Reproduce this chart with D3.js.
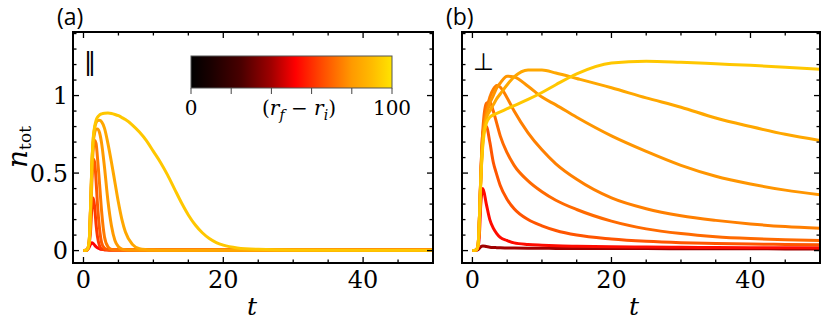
<!DOCTYPE html>
<html><head><meta charset="utf-8">
<script src="https://cdn.jsdelivr.net/npm/d3@7"></script>
<style>body{margin:0;background:#fff}svg{display:block}</style>
</head><body>
<svg id="c" width="830" height="324"></svg>
<script>
// ---------- data ----------
const tA = [0,0.5,0.8,1,1.2,1.4,1.6,1.8,2,2.3,2.6,3,3.5,4,4.5,5,5.5,6,7,8,9,10,11,12,13,14,15,16,17,18,19,20,22,25,30,40,50];
const aRed    = [0,0.003,0.02,0.04,0.05,0.045,0.035,0.025,0.018,0.012,0.008,0.006,0.005,0.004,0.004,0.004,0.004,0.004,0.004,0.004,0.004,0.004,0.004,0.004,0.004,0.004,0.004,0.004,0.004,0.004,0.004,0.004,0.004,0.004,0.004,0.004,0.004];
const aO0     = [0,0.004,0.04,0.12,0.28,0.34,0.28,0.17,0.09,0.03,0.01,0.005,0.004,0.004,0.004,0.004,0.004,0.004,0.004,0.004,0.004,0.004,0.004,0.004,0.004,0.004,0.004,0.004,0.004,0.004,0.004,0.004,0.004,0.004,0.004,0.004,0.004];
const aO1     = [0,0.005,0.05,0.2,0.45,0.59,0.57,0.45,0.3,0.14,0.05,0.015,0.006,0.004,0.004,0.004,0.004,0.004,0.004,0.004,0.004,0.004,0.004,0.004,0.004,0.004,0.004,0.004,0.004,0.004,0.004,0.004,0.004,0.004,0.004,0.004,0.004];
const aO2     = [0,0.005,0.05,0.27,0.5,0.66,0.71,0.69,0.6,0.43,0.25,0.09,0.025,0.008,0.005,0.004,0.004,0.004,0.004,0.004,0.004,0.004,0.004,0.004,0.004,0.004,0.004,0.004,0.004,0.004,0.004,0.004,0.004,0.004,0.004,0.004,0.004];
const aO3     = [0,0.005,0.05,0.26,0.56,0.7,0.76,0.783,0.785,0.76,0.69,0.54,0.32,0.16,0.065,0.025,0.01,0.006,0.004,0.003,0.003,0.003,0.003,0.003,0.003,0.003,0.003,0.003,0.003,0.003,0.003,0.003,0.003,0.003,0.003,0.003,0.003];
const aO4     = [0,0.005,0.05,0.25,0.55,0.72,0.79,0.825,0.838,0.84,0.83,0.79,0.69,0.57,0.44,0.31,0.2,0.12,0.04,0.012,0.006,0.004,0.003,0.003,0.003,0.003,0.003,0.003,0.003,0.003,0.003,0.003,0.003,0.003,0.003,0.003,0.003];
const aYellow = [0,0.005,0.05,0.25,0.55,0.73,0.8,0.84,0.86,0.875,0.882,0.886,0.887,0.884,0.878,0.87,0.858,0.845,0.81,0.765,0.71,0.64,0.57,0.49,0.4,0.31,0.23,0.165,0.115,0.078,0.052,0.035,0.017,0.008,0.004,0.003,0.003];
const aSeries = [aRed, aO0, aO1, aO2, aO3, aO4, aYellow];
const aParams = [52, 62, 68, 74, 80, 84, 93];   // position on colour bar (0-100)

const tB = [0,0.5,0.8,1,1.2,1.5,2,2.5,3,3.5,4,5,6,8,10,12,15,20,25,30,35,40,45,50];
const bDark   = [0,0.001,0.005,0.015,0.025,0.03,0.026,0.022,0.02,0.019,0.018,0.017,0.016,0.015,0.015,0.014,0.014,0.013,0.013,0.012,0.012,0.012,0.011,0.011];
const bRed    = [0,0.002,0.02,0.1,0.3,0.4,0.3,0.2,0.145,0.11,0.085,0.065,0.05,0.04,0.035,0.031,0.028,0.025,0.023,0.021,0.02,0.019,0.018,0.018];
const bO5     = [0,0.003,0.03,0.2,0.48,0.76,0.8,0.7,0.57,0.49,0.42,0.33,0.27,0.2,0.16,0.13,0.1,0.075,0.06,0.051,0.046,0.042,0.04,0.038];
const bO4     = [0,0.003,0.03,0.2,0.48,0.78,0.95,0.96,0.9,0.82,0.74,0.63,0.55,0.45,0.38,0.325,0.265,0.19,0.14,0.11,0.09,0.078,0.07,0.065];
const bO3     = [0,0.003,0.03,0.2,0.47,0.74,0.9,0.99,1.04,1.065,1.055,0.985,0.9,0.76,0.65,0.56,0.46,0.34,0.27,0.225,0.195,0.172,0.155,0.144];
const bO2     = [0,0.003,0.03,0.2,0.46,0.72,0.87,0.95,1.0,1.05,1.08,1.125,1.12,1.06,0.99,0.94,0.86,0.74,0.64,0.55,0.48,0.43,0.39,0.36];
const bO1     = [0,0.003,0.03,0.2,0.45,0.7,0.85,0.9,0.94,0.98,1.01,1.07,1.12,1.165,1.165,1.145,1.11,1.05,0.985,0.925,0.855,0.8,0.75,0.71];
const bYellow = [0,0.003,0.03,0.2,0.45,0.68,0.82,0.86,0.875,0.885,0.895,0.915,0.935,0.975,1.02,1.07,1.14,1.21,1.222,1.215,1.205,1.195,1.183,1.17];
const bSeries = [bDark, bRed, bO5, bO4, bO3, bO2, bO1, bYellow];
const bParams = [40, 54, 67, 71, 75, 79, 84, 93];

const xMajor = [0, 20, 40];
const yMajor = [0, 0.5, 1];
const yMajorLabels = ["0", "0.5", "1"];
const cbarTicks = [0, 20, 40, 60, 80, 100];
const cbarStops = [0, 0.1, 0.25, 0.4, 0.52, 0.65, 0.8, 0.9, 1.0];
const cbarColors = ["#000000","#1a0000","#4a0000","#a00000","#ff0000","#ff4a00","#ff9a00","#ffbb00","#ffe400"];

// ---------- drawing ----------
const svg = d3.select("#c");
const cmap = d3.scaleLinear().domain(cbarStops.map(d => d * 100)).range(cbarColors).interpolate(d3.interpolateRgb);
const serif = "DejaVu Serif";

function panel(x0, x1, series, params, tvals, showY, tag, sym, id, tLabelX) {
  const x = d3.scaleLinear().domain([-1.5, 50]).range([x0, x1]);
  const y = d3.scaleLinear().domain([-0.08, 1.41]).range([263, 32]);
  const g = svg.append("g");
  g.append("clipPath").attr("id", id).append("rect")
    .attr("x", x0).attr("y", 32).attr("width", x1 - x0).attr("height", 231);
  const line = d3.line().x((d, i) => x(tvals[i])).y(d => y(d)).curve(d3.curveMonotoneX);
  const lg = g.append("g").attr("clip-path", `url(#${id})`);
  series.forEach((s, k) => {
    lg.append("path").attr("d", line(s)).attr("fill", "none")
      .attr("stroke", cmap(params[k])).attr("stroke-width", 3).attr("stroke-linejoin", "round");
  });
  // ticks
  const xMinor = d3.range(0, 51, 5);
  const yMinor = d3.range(0, 1.41, 0.1);
  const tk = g.append("g").attr("stroke", "#000").attr("stroke-width", 1.3);
  xMinor.forEach(v => {
    const L = xMajor.includes(v) ? 6 : 3.5;
    tk.append("line").attr("x1", x(v)).attr("x2", x(v)).attr("y1", 263).attr("y2", 263 - L);
    tk.append("line").attr("x1", x(v)).attr("x2", x(v)).attr("y1", 32).attr("y2", 32 + L);
  });
  yMinor.forEach(v => {
    const maj = yMajor.some(m => Math.abs(m - v) < 1e-6);
    const L = maj ? 6 : 3.5;
    tk.append("line").attr("y1", y(v)).attr("y2", y(v)).attr("x1", x0).attr("x2", x0 + L);
    tk.append("line").attr("y1", y(v)).attr("y2", y(v)).attr("x1", x1).attr("x2", x1 - L);
  });
  g.append("rect").attr("x", x0).attr("y", 32).attr("width", x1 - x0).attr("height", 231)
    .attr("fill", "none").attr("stroke", "#000").attr("stroke-width", 2);
  // tick labels
  xMajor.forEach(v => {
    g.append("text").attr("x", x(v)).attr("y", 288).attr("text-anchor", "middle")
      .attr("font-family", serif).attr("font-size", 24).text(String(v));
  });
  if (showY) {
    yMajor.forEach((v, i) => {
      g.append("text").attr("x", 68).attr("y", y(v) + 8.5).attr("text-anchor", "end")
        .attr("font-family", serif).attr("font-size", 24).text(yMajorLabels[i]);
    });
  }
  g.append("text").attr("x", tLabelX).attr("y", 315).attr("text-anchor", "middle")
    .attr("font-family", serif).attr("font-style", "italic").attr("font-size", 25).text("t");
  g.append("text").attr("x", x0 - 16).attr("y", 25).attr("font-family", "Open Sans")
    .attr("font-size", 23).text(tag);
  g.append("text").attr("x", x0 + 11).attr("y", 70).attr("font-family", "DejaVu Sans")
    .attr("font-size", 24).text(sym);
  return {x, y, g};
}

const pa = panel(73, 433, aSeries, aParams, tA, true, "(a)", "\u2016", "clipA", 252);
const pb = panel(462, 820, bSeries, bParams, tB, false, "(b)", "\u22A5", "clipB", 634);

// y label
const yl = svg.append("text").attr("transform", "translate(27,147) rotate(-90)")
  .attr("text-anchor", "middle").attr("font-family", serif);
yl.append("tspan").attr("font-style", "italic").attr("font-size", 28).text("n");
yl.append("tspan").attr("font-size", 17).attr("dy", 4).text("tot");

// colour bar
const cb = d3.scaleLinear().domain([0, 100]).range([191, 392]);
const defs = svg.append("defs");
const grad = defs.append("linearGradient").attr("id", "cbg").attr("x1", "0%").attr("x2", "100%");
cbarStops.forEach((s, i) => grad.append("stop").attr("offset", s * 100 + "%").attr("stop-color", cbarColors[i]));
svg.append("rect").attr("x", cb(0)).attr("y", 56).attr("width", cb(100) - cb(0)).attr("height", 32)
  .attr("fill", "url(#cbg)").attr("stroke", "#555").attr("stroke-width", 1);
cbarTicks.forEach(v => {
  svg.append("line").attr("x1", cb(v)).attr("x2", cb(v)).attr("y1", 88).attr("y2", 94)
    .attr("stroke", "#444").attr("stroke-width", 1);
});
svg.append("text").attr("x", cb(0)).attr("y", 115).attr("text-anchor", "middle")
  .attr("font-family", serif).attr("font-size", 20).text("0");
svg.append("text").attr("x", cb(100)).attr("y", 115).attr("text-anchor", "middle")
  .attr("font-family", serif).attr("font-size", 20).text("100");
const cl = svg.append("text").attr("x", 299).attr("y", 115).attr("text-anchor", "middle")
  .attr("font-family", serif).attr("font-size", 20);
cl.append("tspan").text("(");
cl.append("tspan").attr("font-style", "italic").text("r");
cl.append("tspan").attr("font-style", "italic").attr("font-size", 14).attr("dy", 5).text("f");
cl.append("tspan").attr("dy", -5).text(" \u2212 ");
cl.append("tspan").attr("font-style", "italic").text("r");
cl.append("tspan").attr("font-style", "italic").attr("font-size", 14).attr("dy", 5).text("i");
cl.append("tspan").attr("dy", -5).text(")");
</script>
</body></html>
